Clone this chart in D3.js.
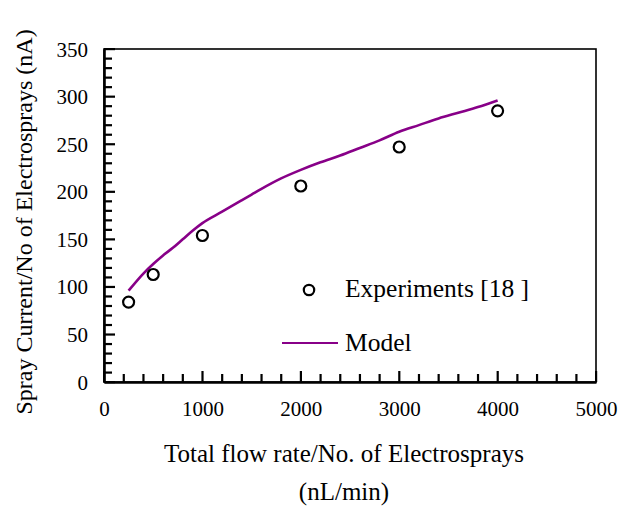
<!DOCTYPE html>
<html>
<head>
<meta charset="utf-8">
<script src="https://cdn.jsdelivr.net/npm/d3@7"></script>
<style>
  html, body { margin: 0; padding: 0; background: #fff; }
  text { font-family: "Liberation Serif", "Times New Roman", serif; fill: #000; }
</style>
</head>
<body>
<svg id="chart" width="631" height="508"></svg>
<script>
// Experimental data (Experiments [18])
const expFlow = [250, 500, 1000, 2000, 3000, 4000];
const expCurrent = [84, 113, 154, 206, 247, 285];

// Model curve
const modelFlow = [250, 400, 500, 600, 700, 800, 900, 1000, 1200, 1400, 1500, 1600, 1800, 2000,
                   2200, 2400, 2600, 2800, 3000, 3200, 3400, 3600, 3800, 4000];
const modelCurrent = [96, 114, 124, 133, 141, 150, 159, 167, 179, 191, 197, 203, 214, 223,
                      231, 238, 246, 254, 263, 270, 277, 283, 289, 296];

const xTicks = [0, 1000, 2000, 3000, 4000, 5000];
const yTicks = [0, 50, 100, 150, 200, 250, 300, 350];

const xTitle = "Total flow rate/No. of Electrosprays";
const xUnit = "(nL/min)";
const yTitle = "Spray Current/No of Electrosprays (nA)";
const legendLabels = ["Experiments [18 ]", "Model"];

const svg = d3.select("#chart");
const L = 104, R = 596, T = 49, B = 382;

const x = d3.scaleLinear().domain([0, 5000]).range([L, R]);
const y = d3.scaleLinear().domain([0, 350]).range([B, T]);

// Frame
svg.append("rect")
  .attr("x", L).attr("y", T).attr("width", R - L).attr("height", B - T)
  .attr("fill", "none").attr("stroke", "#000").attr("stroke-width", 1.6);

// Axes (labels + thick domain lines)
const xAxis = svg.append("g").attr("transform", `translate(0,${B})`)
  .call(d3.axisBottom(x).tickValues(xTicks).tickSize(0).tickSizeOuter(0).tickFormat(d3.format("d")));
const yAxis = svg.append("g").attr("transform", `translate(${L},0)`)
  .call(d3.axisLeft(y).tickValues(yTicks).tickSize(0).tickSizeOuter(0).tickFormat(d3.format("d")));

svg.selectAll(".domain").attr("stroke", "#000").attr("stroke-width", 2.6);
svg.selectAll(".tick text")
  .attr("font-family", "Liberation Serif, serif")
  .attr("font-size", 21).attr("fill", "#000");
xAxis.selectAll(".tick text").attr("dy", "0.71em").attr("y", 19);
yAxis.selectAll(".tick text").attr("x", -16).attr("dy", "0.34em");

// Ticks (inward), drawn from the scales as small filled rects, on top of the axes
const xMinor = d3.range(0, 5001, 200).filter(v => !xTicks.includes(v));
const yMinor = d3.range(0, 351, 10).filter(v => !yTicks.includes(v));
const xTickList = xTicks.map(v => ({v, len: 11})).concat(xMinor.map(v => ({v, len: 8})));
const yTickList = yTicks.map(v => ({v, len: 11})).concat(yMinor.map(v => ({v, len: 8})));
svg.append("g").attr("class", "xticks")
  .selectAll("rect").data(xTickList).join("rect")
  .attr("x", d => x(d.v) - 1).attr("y", d => B - d.len)
  .attr("width", 2.2).attr("height", d => d.len)
  .attr("fill", "#000");
svg.append("g").attr("class", "yticks")
  .selectAll("rect").data(yTickList).join("rect")
  .attr("x", L).attr("y", d => y(d.v) - 1)
  .attr("width", d => d.len).attr("height", 2.2)
  .attr("fill", "#000");

// Model line
const line = d3.line()
  .curve(d3.curveMonotoneX)
  .x((d, i) => x(modelFlow[i])).y((d, i) => y(modelCurrent[i]));
svg.append("path")
  .datum(modelCurrent)
  .attr("d", line)
  .attr("fill", "none")
  .attr("stroke", "#880088")
  .attr("stroke-width", 2.6);

// Experiment points
svg.selectAll("circle.exp")
  .data(expFlow)
  .join("circle")
  .attr("class", "exp")
  .attr("cx", d => x(d))
  .attr("cy", (d, i) => y(expCurrent[i]))
  .attr("r", 5.5)
  .attr("fill", "none")
  .attr("stroke", "#000")
  .attr("stroke-width", 2.2);

// Legend
svg.append("circle").attr("cx", 309).attr("cy", 290).attr("r", 5.2)
  .attr("fill", "none").attr("stroke", "#000").attr("stroke-width", 2.2);
svg.append("text").attr("x", 345).attr("y", 297).attr("font-size", 25.5).text(legendLabels[0]);
svg.append("line").attr("x1", 282).attr("x2", 338).attr("y1", 343).attr("y2", 343)
  .attr("stroke", "#880088").attr("stroke-width", 2.2);
svg.append("text").attr("x", 345).attr("y", 351).attr("font-size", 25.5).text(legendLabels[1]);

// Axis titles
svg.append("text").attr("x", 344).attr("y", 462).attr("text-anchor", "middle")
  .attr("font-size", 25).text(xTitle);
svg.append("text").attr("x", 344).attr("y", 500).attr("text-anchor", "middle")
  .attr("font-size", 25).text(xUnit);
svg.append("text")
  .attr("transform", "translate(32,222) rotate(-90)")
  .attr("text-anchor", "middle")
  .attr("font-size", 24).text(yTitle);
</script>
</body>
</html>
